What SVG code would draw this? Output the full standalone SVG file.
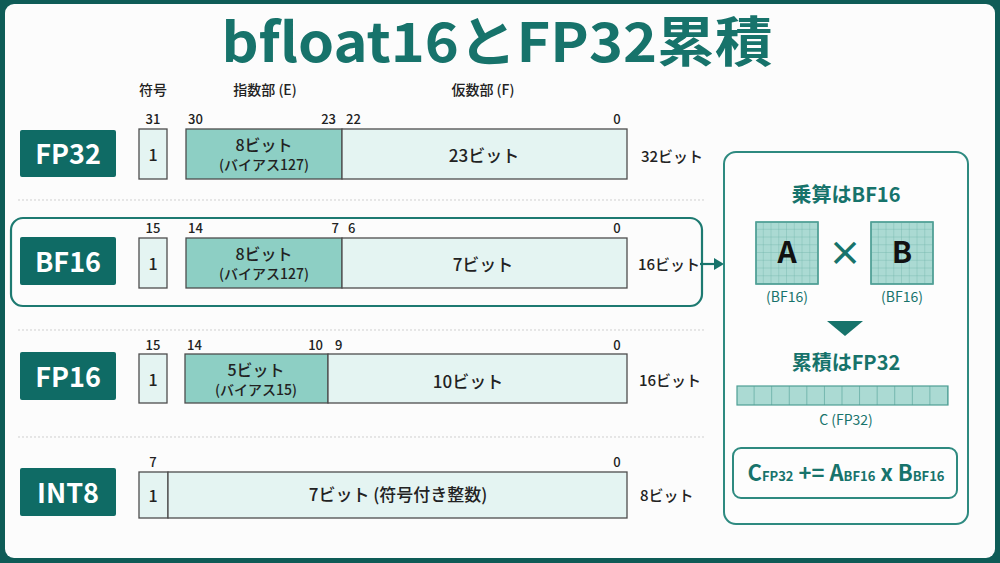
<svg xmlns="http://www.w3.org/2000/svg" width="1000" height="563" viewBox="0 0 1000 563">
<style>
text{font-family:"Noto Sans CJK JP","Noto Sans",sans-serif;}
.lab{fill:#0f6b65;}
.labt{fill:#ffffff;font-size:27px;font-weight:700;text-anchor:middle;}
.bx{stroke:#4d4d4d;stroke-width:1.3;}
.lt{fill:#e4f4f2;}
.ex{fill:#8dcfc4;}
.num{font-size:13px;fill:#222;font-weight:500;}
.hd{font-size:14px;fill:#222;font-weight:500;text-anchor:middle;}
.in1{font-size:16px;fill:#222;font-weight:500;text-anchor:middle;}
.in2{font-size:14px;fill:#222;font-weight:500;text-anchor:middle;}
.man{font-size:17px;fill:#222;font-weight:500;text-anchor:middle;}
.tot{font-size:15px;fill:#222;font-weight:500;}
.sep{stroke:#cfcfcf;stroke-width:1;stroke-dasharray:2 2;}
.tealt{fill:#17736b;font-weight:700;text-anchor:middle;}
.grid{fill:#abdad3;stroke:#4f9f95;stroke-width:1.2;}
</style>
<defs>
<pattern id="g8" x="756" y="222" width="7.75" height="7.75" patternUnits="userSpaceOnUse">
<path d="M7.75 0V7.75H0" fill="none" stroke="#6aafa5" stroke-width="0.7"/>
</pattern>
<pattern id="g8b" x="871" y="222" width="7.75" height="7.75" patternUnits="userSpaceOnUse">
<path d="M7.75 0V7.75H0" fill="none" stroke="#6aafa5" stroke-width="0.7"/>
</pattern>
<pattern id="c12" x="737" y="386" width="17.58" height="19" patternUnits="userSpaceOnUse">
<path d="M17.58 0V19" fill="none" stroke="#4f9f95" stroke-width="1.2"/>
</pattern>
</defs>
<rect x="0" y="0" width="1000" height="563" fill="#0e5c57"/>
<rect x="5" y="4" width="990" height="554" rx="9" fill="#fcfcfc"/>

<text x="497" y="62" class="tealt" font-size="54" textLength="551" lengthAdjust="spacingAndGlyphs">bfloat16とFP32累積</text>

<g id="headers">
<text x="153" y="95" class="hd">符号</text>
<text x="265" y="95" class="hd">指数部 (E)</text>
<text x="483" y="95" class="hd">仮数部 (F)</text>
</g>

<g id="separators">
<line x1="18" y1="200" x2="705" y2="200" class="sep"/>
<line x1="18" y1="330" x2="705" y2="330" class="sep"/>
<line x1="18" y1="437" x2="705" y2="437" class="sep"/>
</g>

<g id="row-fp32">
<rect x="20" y="130" width="96" height="47" rx="2" class="lab"/>
<text x="68" y="164" class="labt">FP32</text>
<text x="153" y="124" class="num" text-anchor="middle">31</text>
<text x="188" y="124" class="num">30</text>
<text x="336" y="124" class="num" text-anchor="end">23</text>
<text x="346" y="124" class="num">22</text>
<text x="617" y="124" class="num" text-anchor="middle">0</text>
<rect x="139" y="129" width="28" height="50" class="bx lt"/>
<text x="153" y="161" class="in1">1</text>
<rect x="186" y="129" width="156" height="50" class="bx ex"/>
<text x="264" y="151" class="in1">8ビット</text>
<text x="264" y="170" class="in2">(バイアス127)</text>
<rect x="342" y="129" width="285" height="50" class="bx lt"/>
<text x="484" y="162" class="man">23ビット</text>
<text x="641" y="162" class="tot">32ビット</text>
</g>

<g id="row-bf16">
<rect x="11" y="218" width="691" height="88" rx="12" fill="none" stroke="#1d7a71" stroke-width="2.2"/>
<rect x="20" y="237" width="96" height="48" rx="2" class="lab"/>
<text x="68" y="272" class="labt">BF16</text>
<text x="153" y="233" class="num" text-anchor="middle">15</text>
<text x="188" y="233" class="num">14</text>
<text x="339" y="233" class="num" text-anchor="end">7</text>
<text x="348" y="233" class="num">6</text>
<text x="617" y="233" class="num" text-anchor="middle">0</text>
<rect x="139" y="238" width="28" height="50" class="bx lt"/>
<text x="153" y="270" class="in1">1</text>
<rect x="186" y="238" width="156" height="50" class="bx ex"/>
<text x="264" y="260" class="in1">8ビット</text>
<text x="264" y="279" class="in2">(バイアス127)</text>
<rect x="342" y="238" width="285" height="50" class="bx lt"/>
<text x="483" y="271" class="man">7ビット</text>
<text x="638" y="270" class="tot">16ビット</text>
</g>

<g id="row-fp16">
<rect x="20" y="352" width="96" height="48" rx="2" class="lab"/>
<text x="68" y="387" class="labt">FP16</text>
<text x="153" y="350" class="num" text-anchor="middle">15</text>
<text x="187" y="350" class="num">14</text>
<text x="323" y="350" class="num" text-anchor="end">10</text>
<text x="335" y="350" class="num">9</text>
<text x="617" y="350" class="num" text-anchor="middle">0</text>
<rect x="139" y="354" width="28" height="49" class="bx lt"/>
<text x="153" y="386" class="in1">1</text>
<rect x="185" y="354" width="143" height="49" class="bx ex"/>
<text x="256" y="376" class="in1">5ビット</text>
<text x="256" y="395" class="in2">(バイアス15)</text>
<rect x="328" y="354" width="299" height="49" class="bx lt"/>
<text x="468" y="388" class="man">10ビット</text>
<text x="639" y="386" class="tot">16ビット</text>
</g>

<g id="row-int8">
<rect x="20" y="468" width="96" height="48" rx="2" class="lab"/>
<text x="68" y="503" class="labt">INT8</text>
<text x="153" y="467" class="num" text-anchor="middle">7</text>
<text x="617" y="467" class="num" text-anchor="middle">0</text>
<rect x="139" y="472" width="29" height="46" class="bx lt"/>
<text x="153" y="502" class="in1">1</text>
<rect x="168" y="472" width="459" height="46" class="bx lt"/>
<text x="398" y="501" class="man" font-size="16">7ビット (符号付き整数)</text>
<text x="640" y="501" class="tot">8ビット</text>
</g>

<g id="connectors">
<line x1="700" y1="264" x2="715" y2="264" stroke="#17736b" stroke-width="2.2"/>
<polygon points="714,258 724,264 714,270" fill="#17736b"/>
</g>

<g id="panel">
<rect x="724" y="152" width="244" height="372" rx="12" fill="#fdfdfd" stroke="#2e8a80" stroke-width="2"/>
<text x="846" y="202" class="tealt" font-size="20">乗算はBF16</text>
<rect x="756" y="222" width="62" height="62" class="grid"/>
<rect x="756" y="222" width="62" height="62" fill="url(#g8)"/>
<rect x="756" y="222" width="62" height="62" fill="none" stroke="#4f9f95" stroke-width="1.4"/>
<text x="787" y="263" font-size="30" font-weight="700" fill="#111" text-anchor="middle" font-family="Roboto,'Noto Sans',sans-serif">A</text>
<text x="845" y="266" class="tealt" font-size="34" font-weight="400">×</text>
<rect x="871" y="222" width="62" height="62" class="grid"/>
<rect x="871" y="222" width="62" height="62" fill="url(#g8b)"/>
<rect x="871" y="222" width="62" height="62" fill="none" stroke="#4f9f95" stroke-width="1.4"/>
<text x="902" y="263" font-size="30" font-weight="700" fill="#111" text-anchor="middle" font-family="Roboto,'Noto Sans',sans-serif">B</text>
<text x="787" y="302" font-size="14" fill="#17736b" text-anchor="middle">(BF16)</text>
<text x="902" y="302" font-size="14" fill="#17736b" text-anchor="middle">(BF16)</text>
<polygon points="827,321 863,321 845,336" fill="#17736b"/>
<text x="846" y="370" class="tealt" font-size="20">累積はFP32</text>
<rect x="737" y="386" width="211" height="19" fill="#abdad3"/>
<rect x="737" y="386" width="211" height="19" fill="url(#c12)"/>
<rect x="737" y="386" width="211" height="19" fill="none" stroke="#4f9f95" stroke-width="1.2"/>
<text x="846" y="425" font-size="14" fill="#17736b" text-anchor="middle">C (FP32)</text>
<rect x="733" y="448" width="224" height="50" rx="8" fill="#fdfdfd" stroke="#2e8a80" stroke-width="2"/>
<text x="846" y="481" text-anchor="middle" fill="#17736b" font-weight="700" font-size="22" font-family="Roboto,'Noto Sans',sans-serif">C<tspan font-size="13">FP32</tspan> += A<tspan font-size="13">BF16</tspan> x B<tspan font-size="13">BF16</tspan></text>
</g>
</svg>
